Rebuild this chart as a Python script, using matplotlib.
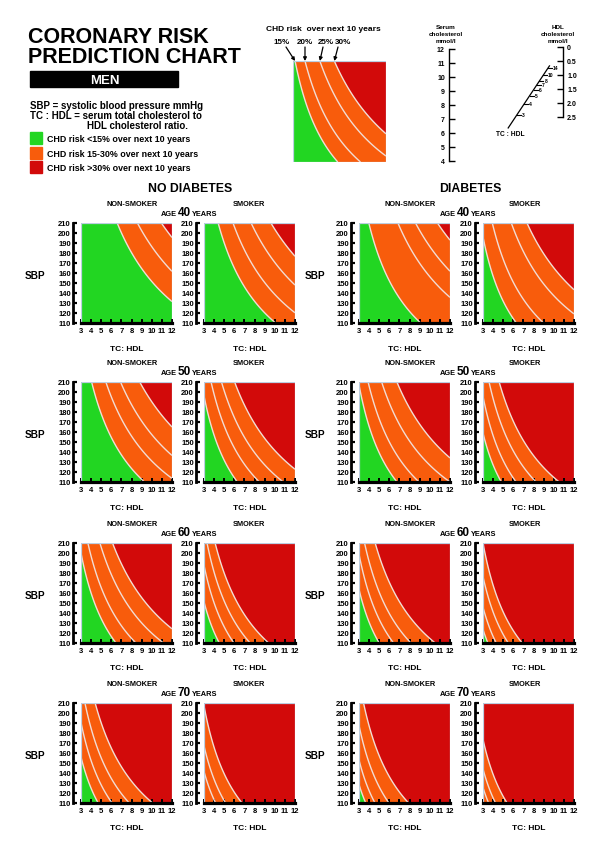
import numpy as np
import matplotlib
matplotlib.use("Agg")
import matplotlib.pyplot as plt
from matplotlib.patches import Rectangle

plt.rcParams['font.family'] = ['Liberation Sans', 'DejaVu Sans']
plt.rcParams['font.weight'] = 'bold'

nan = np.nan
# ---------------- data ----------------
ages = [40, 50, 60, 70]
risk_levels = ["15%", "20%", "25%", "30%"]
curve_exponent = 0.78   # along each contour SBP falls as (TC:HDL)^-0.78
# TC:HDL ratio at which each risk contour (15, 20, 25, 30 %) meets SBP = 210
# (values below 3 are extrapolated crossings left of the panel)
nodiab_nonsmoker = [[6.58, 8.58, nan, 10.95],
                    [4.05, 5.46, 6.91, 8.81],
                    [2.82, 3.68, 4.87, 6.12],
                    [2.05, 2.65, 3.39, 4.40]]
nodiab_smoker = [[4.40, 5.87, 7.66, 9.62],
                 [2.75, 3.70, 4.73, 6.03],
                 [1.97, 2.60, 3.30, 4.10],
                 [1.20, 1.81, 2.24, 2.95]]
diab_nonsmoker = [[3.97, 6.85, 8.59, 10.76],
                  [2.95, 3.90, 5.24, 6.75],
                  [2.18, 2.80, 3.55, 4.60],
                  [1.60, 2.00, 2.60, 3.45]]
diab_smoker = [[2.75, 3.92, 5.80, 7.35],
               [2.10, 2.74, 3.60, 4.60],
               [1.52, 1.88, 2.40, 3.00],
               [1.10, 1.55, 1.85, 2.35]]
key_contours = [3.2, 4.16, 5.6, 7.0]
sbp_ticks = list(range(110, 211, 10))
ratio_ticks = list(range(3, 13))
serum_chol_ticks = list(range(4, 13))
hdl_ticks = [0, 0.5, 1.0, 1.5, 2.0, 2.5]
hdl_labels = ["0", "0.5", "1.0", "1.5", "2.0", "2.5"]
nomogram_ratios = [3, 4, 5, 6, 7, 8, 10, 14]
legend_labels = ["CHD risk <15% over next 10 years",
                 "CHD risk 15-30% over next 10 years",
                 "CHD risk >30% over next 10 years"]

GREEN = '#22d622'
ORANGE = '#f85c0c'
RED = '#d20a0a'
LINE = '#f2dcd4'
EDGE = '#bccfe2'

W, H = 607, 853
fig = plt.figure(figsize=(W / 100, H / 100), dpi=100)
fig.patch.set_facecolor('white')
over = fig.add_axes([0, 0, 1, 1])
over.set_xlim(0, W)
over.set_ylim(H, 0)
over.axis('off')


def rect(x, y, w, h):
    return [x / W, 1 - (y + h) / H, w / W, h / H]


xs = np.linspace(3, 12, 400)
ys = np.linspace(110, 210, 400)
X, Y = np.meshgrid(xs, ys)
T = X * (Y / 210.0) ** (1.0 / curve_exponent)


def draw_risk(ax, xt):
    ax.contourf(X, Y, T, levels=[0, xt[0], xt[3], 1e3],
                colors=[GREEN, ORANGE, RED], antialiased=True)
    lv = sorted(v for v in xt if not np.isnan(v) and T.min() < v < T.max())
    if lv:
        ax.contour(X, Y, T, levels=lv, colors=LINE, linewidths=1.0)
    ax.set_xlim(3, 12)
    ax.set_ylim(110, 210)
    ax.add_patch(Rectangle((0, 0), 1, 1, transform=ax.transAxes, fill=False,
                           ec=EDGE, lw=0.9, zorder=3))


def style_panel(ax):
    for s in ['top', 'right']:
        ax.spines[s].set_visible(False)
    ax.spines['left'].set_position(('outward', 6))
    ax.spines['left'].set_linewidth(2.0)
    ax.spines['bottom'].set_linewidth(2.3)
    ax.spines['bottom'].set_zorder(4)
    ax.set_yticks(sbp_ticks)
    ax.set_xticks(ratio_ticks)
    ax.tick_params(axis='y', direction='in', length=3, width=1.6, pad=1.2,
                   labelsize=5.5)
    ax.tick_params(axis='x', direction='in', length=2.6, width=1.4, pad=3.2,
                   labelsize=5.5)


# ---------------- header ----------------
over.text(28, 43, "CORONARY RISK", fontsize=15.5, va='baseline', ha='left')
over.text(28, 63, "PREDICTION CHART", fontsize=15.5, va='baseline', ha='left')
over.add_patch(Rectangle((30, 72), 148, 16, color='black'))
over.text(105, 80.5, "MEN", color='white', fontsize=9.5, ha='center', va='center')
over.text(30, 109, "SBP = systolic blood pressure mmHg", fontsize=7, va='baseline')
over.text(30, 119, "TC : HDL = serum total cholesterol to", fontsize=7, va='baseline')
over.text(87, 129, "HDL cholesterol ratio.", fontsize=7, va='baseline')
for i, (c, lab) in enumerate(zip([GREEN, ORANGE, RED], legend_labels)):
    y0 = 133 + i * 14.5
    over.add_patch(Rectangle((30, y0), 12, 12, color=c))
    over.text(47, y0 + 6.5, lab, fontsize=6.4, va='center', ha='left')

# ---------------- key square ----------------
over.text(323, 29, "CHD risk  over next 10 years", fontsize=6, ha='center', va='center')
kax = fig.add_axes(rect(293, 62, 93, 101))
draw_risk(kax, key_contours)
kax.axis('off')
label_x = [282, 305, 326, 343]
tail_x = [286, 305, 323, 338]
for lab, lx, tx, xt in zip(risk_levels, label_x, tail_x, key_contours):
    over.text(lx, 42, lab, fontsize=5.8, ha='center', va='center')
    over.annotate('', xy=(xt, 210), xycoords=kax.transData,
                  xytext=(tx, 48), textcoords=over.transData,
                  arrowprops=dict(arrowstyle='-|>', color='black', lw=0.9,
                                  mutation_scale=5, shrinkA=0, shrinkB=0))

# ---------------- nomogram ----------------
SER_X, SER_TOP, SER_BOT = 449, 50, 162
HDL_X, HDL_TOP, HDL_BOT = 562, 48, 118
sax = fig.add_axes(rect(SER_X, SER_TOP, 1, SER_BOT - SER_TOP))
sax.set_ylim(4, 12)
sax.set_xticks([])
sax.set_yticks(serum_chol_ticks)
for s in ['top', 'right', 'bottom']:
    sax.spines[s].set_visible(False)
sax.spines['left'].set_linewidth(1.0)
sax.patch.set_visible(False)
sax.tick_params(axis='y', direction='in', length=4, width=1.0, pad=3, labelsize=5)

hax = fig.add_axes(rect(HDL_X, HDL_TOP, 1, HDL_BOT - HDL_TOP))
hax.set_ylim(2.5, 0)
hax.set_xticks([])
hax.set_yticks(hdl_ticks)
hax.set_yticklabels(hdl_labels)
for s in ['top', 'left', 'bottom']:
    hax.spines[s].set_visible(False)
hax.spines['right'].set_linewidth(1.0)
hax.patch.set_visible(False)
hax.yaxis.tick_right()
hax.tick_params(axis='y', direction='in', length=4, width=1.0, pad=3, labelsize=5)

for j, s in enumerate(["Serum", "cholesterol", "mmol/l"]):
    over.text(446, 27 + 7 * j, s, fontsize=4.6, ha='center', va='center')
for j, s in enumerate(["HDL", "cholesterol", "mmol/l"]):
    over.text(558, 27 + 7 * j, s, fontsize=4.6, ha='center', va='center')

b1 = (SER_BOT - SER_TOP) / 8.0
a1 = SER_TOP + 12 * b1
b2 = (HDL_BOT - HDL_TOP) / 2.5
a2 = HDL_TOP


def nomo_point(r):
    t = b1 * r / (b1 * r + b2)
    return SER_X + t * (HDL_X - SER_X), a1 * (1 - t) + a2 * t


p0 = nomo_point(2.2)
p1 = nomo_point(16)
over.plot([p0[0], p1[0]], [p0[1], p1[1]], color='black', lw=0.9)
for r in nomogram_ratios:
    px, py = nomo_point(r)
    over.plot([px, px + 4], [py, py], color='black', lw=0.8)
    over.text(px + 5, py - 0.5, str(r), fontsize=3.6, ha='left', va='center')
over.text(510, 134, "TC : HDL", fontsize=4.8, ha='center', va='center')

# ---------------- panels ----------------
over.text(190, 189, "NO DIABETES", fontsize=8.8, ha='center', va='center')
over.text(470, 189, "DIABETES", fontsize=8.8, ha='center', va='center')

row_tops = [224, 383, 544, 704]
col_lefts = [[81, 204], [359, 483]]
panel_w, panel_h = 91, 100
groups = [[nodiab_nonsmoker, nodiab_smoker], [diab_nonsmoker, diab_smoker]]
ns_center = [132, 410]
sm_center = [249, 525]
num_center = [184, 463]
sbp_x = [35, 315]

for r, (age, top) in enumerate(zip(ages, row_tops)):
    for g in range(2):
        over.text(ns_center[g], top - 19.5, "NON-SMOKER", fontsize=5.3,
                  ha='center', va='center')
        over.text(sm_center[g], top - 19.5, "SMOKER", fontsize=5.3,
                  ha='center', va='center')
        over.text(num_center[g], top - 8.5, str(age), fontsize=8.5,
                  ha='center', va='baseline')
        over.text(num_center[g] - 7.5, top - 8.5, "AGE", fontsize=5.3,
                  ha='right', va='baseline')
        over.text(num_center[g] + 8, top - 8.5, "YEARS", fontsize=5.3,
                  ha='left', va='baseline')
        over.text(sbp_x[g], top + 52, "SBP", fontsize=7.2, ha='center', va='center')
        for c in range(2):
            left = col_lefts[g][c]
            ax = fig.add_axes(rect(left, top, panel_w, panel_h))
            draw_risk(ax, groups[g][c][r])
            style_panel(ax)
            over.text(left + panel_w / 2, top + 125, "TC: HDL", fontsize=6,
                      ha='center', va='center')

fig.savefig("out.png", dpi=100, facecolor='white')
